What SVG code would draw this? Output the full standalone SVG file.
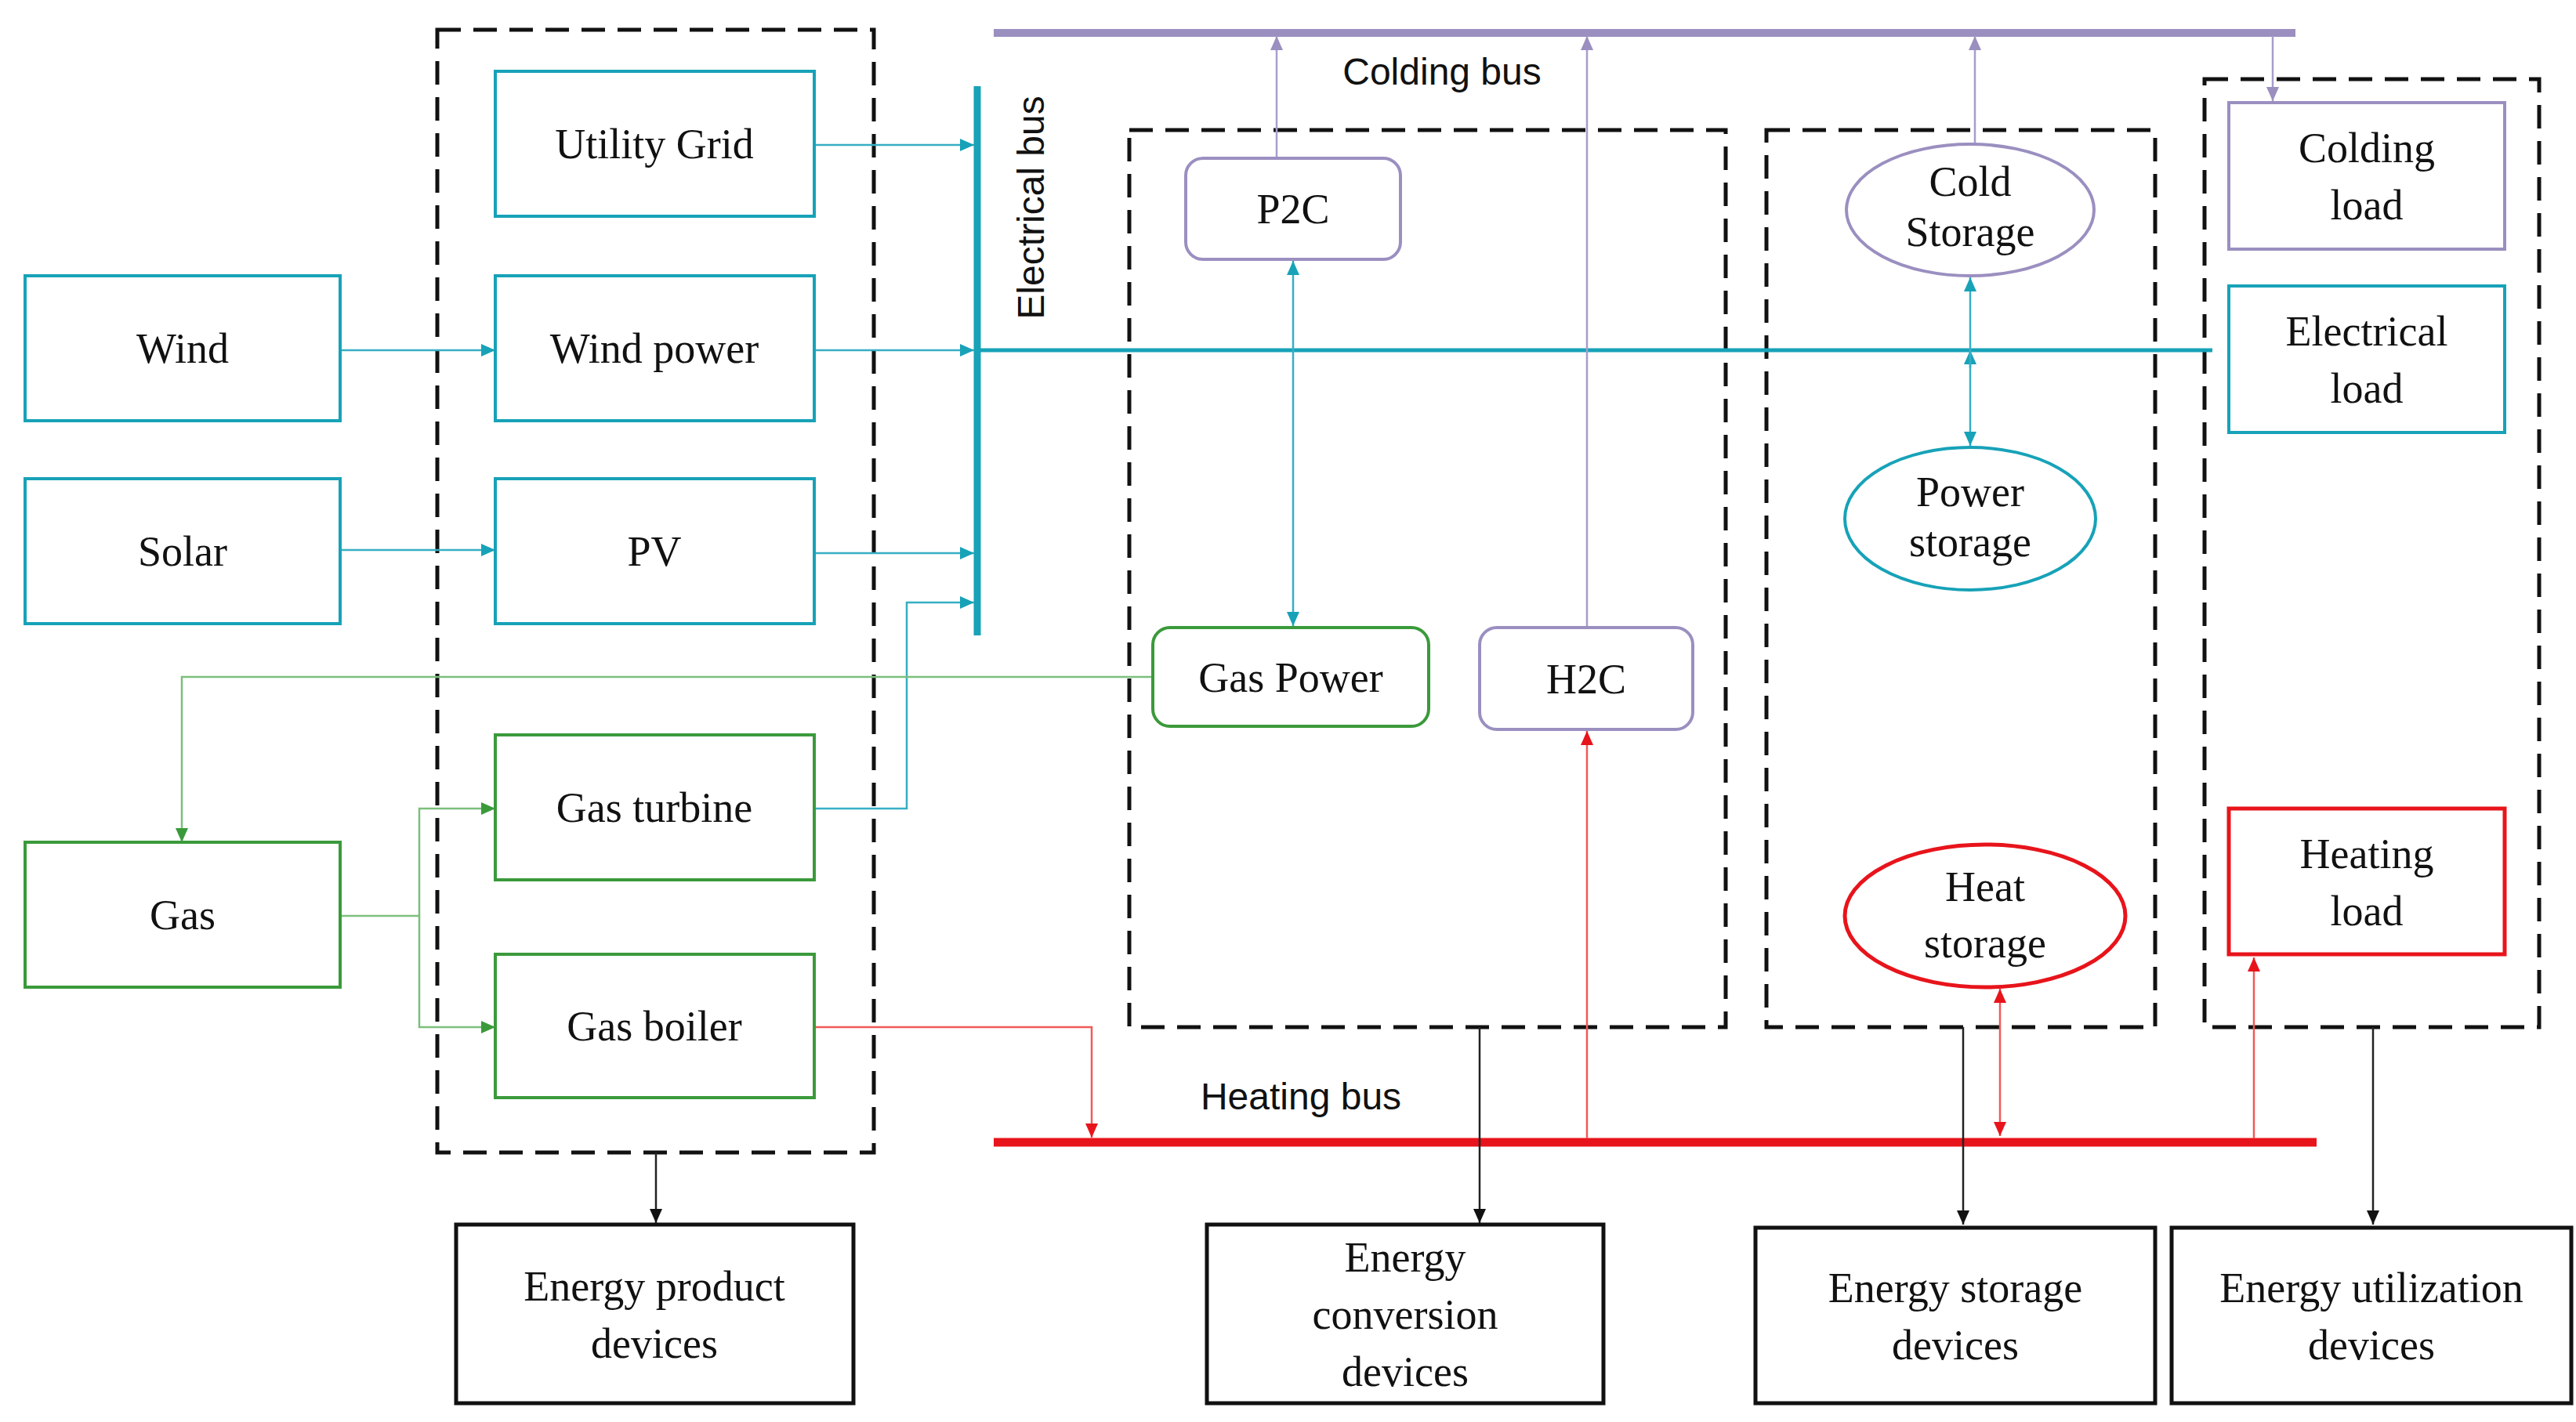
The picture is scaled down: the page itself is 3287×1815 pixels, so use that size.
<svg xmlns="http://www.w3.org/2000/svg" width="3287" height="1815" viewBox="0 0 3287 1815">
<style>
.t{font-family:"Liberation Serif",serif;font-size:54px;fill:#111;text-anchor:middle}
.s{font-family:"Liberation Sans",sans-serif;font-size:48px;fill:#111}
.c{fill:#fff;stroke:#17a2b8;stroke-width:4}
.g{fill:#fff;stroke:#3a9a3a;stroke-width:4}
.p{fill:#fff;stroke:#9b8fc0;stroke-width:4}
.r{fill:#fff;stroke:#e8141b;stroke-width:5}
.k{fill:#fff;stroke:#111;stroke-width:5}
.d{fill:none;stroke:#111;stroke-width:5;stroke-dasharray:30 16}
.lc{fill:none;stroke:#37aec4;stroke-width:2.5}
.lg{fill:none;stroke:#7cbf7c;stroke-width:2.5}
.lp{fill:none;stroke:#a79dcc;stroke-width:2.5}
.lr{fill:none;stroke:#f05a5a;stroke-width:2.5}
.lk{fill:none;stroke:#222;stroke-width:2.5}
</style>
<defs>
<marker id="ag" markerWidth="20" markerHeight="20" refX="18" refY="10" orient="auto" markerUnits="userSpaceOnUse"><path d="M0,2L18,10L0,18z" fill="#3a9a3a"/></marker>
<marker id="ap" markerWidth="20" markerHeight="20" refX="18" refY="10" orient="auto" markerUnits="userSpaceOnUse"><path d="M0,2L18,10L0,18z" fill="#9b8fc0"/></marker>
<marker id="ar" markerWidth="20" markerHeight="20" refX="18" refY="10" orient="auto-start-reverse" markerUnits="userSpaceOnUse"><path d="M0,2L18,10L0,18z" fill="#e8141b"/></marker>
<marker id="ak" markerWidth="20" markerHeight="20" refX="18" refY="10" orient="auto" markerUnits="userSpaceOnUse"><path d="M0,2L18,10L0,18z" fill="#111"/></marker>
<marker id="ac2" markerWidth="22" markerHeight="22" refX="18" refY="10" orient="auto-start-reverse" markerUnits="userSpaceOnUse"><path d="M0,2L18,10L0,18z" fill="#17a2b8"/></marker>
</defs>
<rect width="3287" height="1815" fill="#fff"/>
<g id="groups">
<rect class="d" x="558" y="38" width="557" height="1433"/>
<rect class="d" x="1441" y="166" width="761" height="1145"/>
<rect class="d" x="2254" y="166" width="496" height="1145"/>
<rect class="d" x="2813" y="101" width="427" height="1210"/>
</g>
<g id="buses">
<line x1="1268" y1="42" x2="2929" y2="42" stroke="#9b8fc0" stroke-width="10"/>
<text class="s" x="1840" y="108" text-anchor="middle">Colding bus</text>
<line x1="1247" y1="110" x2="1247" y2="811" stroke="#17a2b8" stroke-width="9"/>
<text class="s" transform="translate(1332,265) rotate(-90)" text-anchor="middle">Electrical bus</text>
<line x1="1247" y1="447" x2="2823" y2="447" stroke="#17a2b8" stroke-width="5"/>
<line x1="1268" y1="1458" x2="2956" y2="1458" stroke="#e8141b" stroke-width="11"/>
<text class="s" x="1660" y="1416" text-anchor="middle">Heating bus</text>
</g>
<g id="connectors">
<path class="lc" d="M1039,185H1243" marker-end="url(#ac2)"/>
<path class="lc" d="M434,447H632" marker-end="url(#ac2)"/>
<path class="lc" d="M1039,447H1243" marker-end="url(#ac2)"/>
<path class="lc" d="M434,702H632" marker-end="url(#ac2)"/>
<path class="lc" d="M1039,706H1243" marker-end="url(#ac2)"/>
<path class="lc" d="M1039,1032H1157V769H1243" marker-end="url(#ac2)"/>
<path class="lg" d="M1471,864H232V1075" marker-end="url(#ag)"/>
<path class="lg" d="M434,1169H535V1032H632" marker-end="url(#ag)"/>
<path class="lg" d="M535,1169V1311H632" marker-end="url(#ag)"/>
<path class="lr" d="M1039,1311H1393V1452" marker-end="url(#ar)"/>
<path class="lc" d="M1650,333V799" marker-start="url(#ac2)" marker-end="url(#ac2)"/>
<path class="lp" d="M1629,202V46" marker-end="url(#ap)"/>
<path class="lp" d="M2025,801V46" marker-end="url(#ap)"/>
<path class="lr" d="M2025,1453V933" marker-end="url(#ar)"/>
<path class="lp" d="M2520,184V46" marker-end="url(#ap)"/>
<path class="lc" d="M2514,447V354" marker-end="url(#ac2)"/>
<path class="lc" d="M2514,470V447" marker-end="url(#ac2)"/>
<path class="lc" d="M2514,447V569" marker-end="url(#ac2)"/>
<path class="lr" d="M2552,1262V1450" marker-start="url(#ar)" marker-end="url(#ar)"/>
<path class="lr" d="M2876,1453V1222" marker-end="url(#ar)"/>
<path class="lp" d="M2900,46V129" marker-end="url(#ap)"/>
<path class="lk" d="M837,1471V1561" marker-end="url(#ak)"/>
<path class="lk" d="M1888,1311V1561" marker-end="url(#ak)"/>
<path class="lk" d="M2505,1311V1563" marker-end="url(#ak)"/>
<path class="lk" d="M3028,1311V1563" marker-end="url(#ak)"/>
</g>
<g id="utility-grid"><rect class="c" x="632" y="91" width="407" height="185"/><text class="t" x="835" y="202">Utility Grid</text></g>
<g id="wind-power"><rect class="c" x="632" y="352" width="407" height="185"/><text class="t" x="835" y="463">Wind power</text></g>
<g id="pv"><rect class="c" x="632" y="611" width="407" height="185"/><text class="t" x="835" y="722">PV</text></g>
<g id="wind"><rect class="c" x="32" y="352" width="402" height="185"/><text class="t" x="233" y="463">Wind</text></g>
<g id="solar"><rect class="c" x="32" y="611" width="402" height="185"/><text class="t" x="233" y="722">Solar</text></g>
<g id="gas-turbine"><rect class="g" x="632" y="938" width="407" height="185"/><text class="t" x="835" y="1049">Gas turbine</text></g>
<g id="gas-boiler"><rect class="g" x="632" y="1218" width="407" height="183"/><text class="t" x="835" y="1328">Gas boiler</text></g>
<g id="gas"><rect class="g" x="32" y="1075" width="402" height="185"/><text class="t" x="233" y="1186">Gas</text></g>
<g id="p2c"><rect class="p" x="1513" y="202" width="274" height="129" rx="22"/><text class="t" x="1650" y="285">P2C</text></g>
<g id="gas-power"><rect class="g" x="1471" y="801" width="352" height="126" rx="22"/><text class="t" x="1647" y="883">Gas Power</text></g>
<g id="h2c"><rect class="p" x="1888" y="801" width="272" height="130" rx="22"/><text class="t" x="2024" y="885">H2C</text></g>
<g id="cold-storage"><ellipse class="p" cx="2514" cy="268" rx="158" ry="84"/><text class="t" x="2514" y="250" font-size="48">Cold</text><text class="t" x="2514" y="314" font-size="48">Storage</text></g>
<g id="power-storage"><ellipse class="c" cx="2514" cy="662" rx="160" ry="91"/><text class="t" x="2514" y="646" font-size="48">Power</text><text class="t" x="2514" y="710" font-size="48">storage</text></g>
<g id="heat-storage"><ellipse class="r" cx="2533" cy="1169" rx="179" ry="91"/><text class="t" x="2533" y="1150">Heat</text><text class="t" x="2533" y="1222">storage</text></g>
<g id="colding-load"><rect class="p" x="2844" y="131" width="352" height="187"/><text class="t" x="3020" y="207">Colding</text><text class="t" x="3020" y="280">load</text></g>
<g id="electrical-load"><rect class="c" x="2844" y="365" width="352" height="187"/><text class="t" x="3020" y="441">Electrical</text><text class="t" x="3020" y="514">load</text></g>
<g id="heating-load"><rect class="r" x="2844" y="1032" width="352" height="186"/><text class="t" x="3020" y="1108">Heating</text><text class="t" x="3020" y="1181">load</text></g>
<g id="energy-product"><rect class="k" x="582" y="1563" width="507" height="228"/><text class="t" x="835" y="1660">Energy  product</text><text class="t" x="835" y="1733">devices</text></g>
<g id="energy-conversion"><rect class="k" x="1540" y="1563" width="506" height="228"/><text class="t" x="1793" y="1623">Energy</text><text class="t" x="1793" y="1696">conversion</text><text class="t" x="1793" y="1769">devices</text></g>
<g id="energy-storage"><rect class="k" x="2240" y="1567" width="510" height="224"/><text class="t" x="2495" y="1662">Energy  storage</text><text class="t" x="2495" y="1735">devices</text></g>
<g id="energy-utilization"><rect class="k" x="2771" y="1567" width="510" height="224"/><text class="t" x="3026" y="1662">Energy  utilization</text><text class="t" x="3026" y="1735">devices</text></g>
</svg>
